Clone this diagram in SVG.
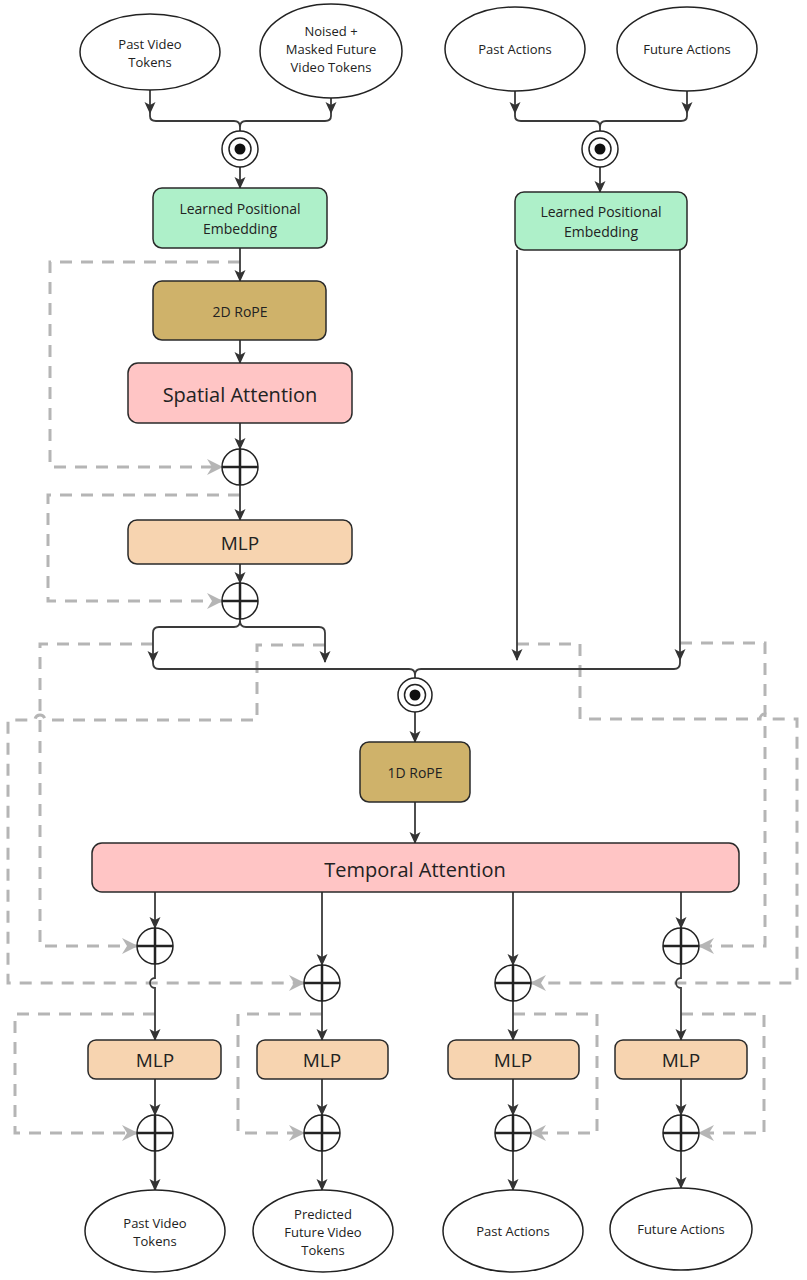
<svg xmlns="http://www.w3.org/2000/svg" width="807" height="1280" viewBox="0 0 807 1280">
<defs>
<style>
text{font-family:"Open Sans","Liberation Sans",sans-serif;fill:#222;text-anchor:middle;dominant-baseline:central}
.ell{fill:#fff;stroke:#222;stroke-width:1.5}
.box{stroke:#2a2a2a;stroke-width:1.5}
.ln{fill:none;stroke:#3a3a3a;stroke-width:1.8}
.ds{fill:none;stroke:#b5b5b5;stroke-width:3;stroke-dasharray:12 9}
.pc{fill:#fff;stroke:#222;stroke-width:1.5}
.px{stroke:#222;stroke-width:2.5}
.s13{font-size:13px}
.s14{font-size:14px}
.s19{font-size:19px}
</style>
<marker id="a" viewBox="0 0 12 12" refX="11" refY="6" markerWidth="12" markerHeight="12" markerUnits="userSpaceOnUse" orient="auto">
<path d="M0,0.5 L12,6 L0,11.5 L3,6 z" fill="#333"/>
</marker>
<marker id="g" viewBox="0 0 16 16" refX="15" refY="8" markerWidth="16" markerHeight="16" markerUnits="userSpaceOnUse" orient="auto">
<path d="M0,0 L16,8 L0,16 L5,8 z" fill="#b5b5b5"/>
</marker>
</defs>
<rect width="807" height="1280" fill="#fff"/>

<g id="connectors">
<path class="ds" d="M240,262 H50 V467 H222" marker-end="url(#g)"/>
<path class="ds" d="M240,495 H48 V601 H222" marker-end="url(#g)"/>
<path class="ds" d="M153,644 H40 V946 H137" marker-end="url(#g)"/>
<path class="ds" d="M325,645 H257 V720 H45 A5,5 0 0 0 35,720 H8 V983 H304" marker-end="url(#g)"/>
<path class="ds" d="M680,643 H765 V946 H699" marker-end="url(#g)"/>
<path class="ds" d="M517,644 H580 V719 H760 A5,5 0 0 1 770,719 H797 V983 H531" marker-end="url(#g)"/>
<path class="ds" d="M155,1014 H15 V1133 H137" marker-end="url(#g)"/>
<path class="ds" d="M322,1014 H238 V1133 H304" marker-end="url(#g)"/>
<path class="ds" d="M513,1014 H597 V1133 H531" marker-end="url(#g)"/>
<path class="ds" d="M681,1014 H764 V1133 H699" marker-end="url(#g)"/>

<path class="ln" d="M150,90 V113" marker-end="url(#a)"/>
<path class="ln" d="M331,98 V113" marker-end="url(#a)"/>
<path class="ln" d="M150,112 V116 Q150,121 156,121 H234 Q240,121 240,127 Q240,121 246,121 H325 Q331,121 331,116 V112 M240,127 V131"/>
<path class="ln" d="M240,167 V188" marker-end="url(#a)"/>
<path class="ln" d="M515,91 V113" marker-end="url(#a)"/>
<path class="ln" d="M687,91 V113" marker-end="url(#a)"/>
<path class="ln" d="M515,112 V116 Q515,121 521,121 H594 Q600,121 600,127 Q600,121 606,121 H681 Q687,121 687,116 V112 M600,127 V131"/>
<path class="ln" d="M600,167 V192" marker-end="url(#a)"/>
<path class="ln" d="M240,248 V281" marker-end="url(#a)"/>
<path class="ln" d="M240,340 V363" marker-end="url(#a)"/>
<path class="ln" d="M240,423 V449" marker-end="url(#a)"/>
<path class="ln" d="M240,485 V520" marker-end="url(#a)"/>
<path class="ln" d="M240,564 V583" marker-end="url(#a)"/>
<path class="ln" d="M240,619 V621 Q240,627 234,627 H159 Q153,627 153,633 V662" marker-end="url(#a)"/>
<path class="ln" d="M240,621 Q240,627 246,627 H319 Q325,627 325,633 V662" marker-end="url(#a)"/>
<path class="ln" d="M517,250 V660" marker-end="url(#a)"/>
<path class="ln" d="M680,250 V660" marker-end="url(#a)"/>
<path class="ln" d="M153,661 V663 Q153,669 159,669 H409 Q415,669 415,675 Q415,669 421,669 H674 Q680,669 680,663 V659 M415,675 V678"/>
<path class="ln" d="M415,712 V742" marker-end="url(#a)"/>
<path class="ln" d="M415,802 V843" marker-end="url(#a)"/>
<path class="ln" d="M155,892 V928" marker-end="url(#a)"/>
<path class="ln" d="M322,892 V965" marker-end="url(#a)"/>
<path class="ln" d="M513,892 V965" marker-end="url(#a)"/>
<path class="ln" d="M681,892 V928" marker-end="url(#a)"/>
<path class="ln" d="M155,964 V978 A5,5 0 0 0 155,988 V1040" marker-end="url(#a)"/>
<path class="ln" d="M322,1001 V1040" marker-end="url(#a)"/>
<path class="ln" d="M513,1001 V1040" marker-end="url(#a)"/>
<path class="ln" d="M681,964 V978 A5,5 0 0 0 681,988 V1040" marker-end="url(#a)"/>
<path class="ln" d="M155,1079 V1115" marker-end="url(#a)"/>
<path class="ln" d="M322,1079 V1115" marker-end="url(#a)"/>
<path class="ln" d="M513,1079 V1115" marker-end="url(#a)"/>
<path class="ln" d="M681,1079 V1115" marker-end="url(#a)"/>
<path class="ln" d="M155,1151 V1190" marker-end="url(#a)" style="stroke-width:2.3"/>
<path class="ln" d="M322,1151 V1190" marker-end="url(#a)"/>
<path class="ln" d="M513,1151 V1190" marker-end="url(#a)"/>
<path class="ln" d="M681,1151 V1188" marker-end="url(#a)"/>
</g>

<g id="in-past-video"><ellipse class="ell" cx="150" cy="52" rx="70" ry="38"/><text class="s13" x="150" y="44">Past Video</text><text class="s13" x="150" y="62">Tokens</text></g>
<g id="in-noised"><ellipse class="ell" cx="331" cy="51" rx="71" ry="47"/><text class="s13" x="331" y="31">Noised +</text><text class="s13" x="331" y="49">Masked Future</text><text class="s13" x="331" y="67">Video Tokens</text></g>
<g id="in-past-actions"><ellipse class="ell" cx="515" cy="49" rx="70" ry="42"/><text class="s13" x="515" y="49">Past Actions</text></g>
<g id="in-future-actions"><ellipse class="ell" cx="687" cy="49" rx="70" ry="42"/><text class="s13" x="687" y="49">Future Actions</text></g>

<g id="concat1"><circle class="pc" cx="240" cy="149" r="18"/><circle class="pc" cx="240" cy="149" r="11"/><circle cx="240" cy="149" r="5.5" fill="#111"/></g>
<g id="concat2"><circle class="pc" cx="600" cy="149" r="18"/><circle class="pc" cx="600" cy="149" r="11"/><circle cx="600" cy="149" r="5.5" fill="#111"/></g>

<g id="lpe1"><rect class="box" x="153" y="188" width="174" height="60" rx="9" fill="#aef0c9"/><text class="s14" x="240" y="208">Learned Positional</text><text class="s14" x="240" y="228">Embedding</text></g>
<g id="lpe2"><rect class="box" x="515" y="192" width="172" height="58" rx="9" fill="#aef0c9"/><text class="s14" x="601" y="211">Learned Positional</text><text class="s14" x="601" y="231">Embedding</text></g>

<g id="rope2d"><rect class="box" x="153" y="281" width="173" height="59" rx="9" fill="#cfb26a"/><text class="s14" x="240" y="311">2D RoPE</text></g>
<g id="spatial"><rect class="box" x="128" y="363" width="224" height="60" rx="10" fill="#ffc5c5"/><text x="240" y="394" style="font-size:20px">Spatial Attention</text></g>
<g id="add1"><circle class="pc" cx="240" cy="467" r="18"/><path class="px" d="M222,467 H258 M240,449 V485"/></g>
<g id="mlp0"><rect class="box" x="128" y="520" width="224" height="44" rx="9" fill="#f7d4b0"/><text class="s19" x="240" y="543">MLP</text></g>
<g id="add2"><circle class="pc" cx="240" cy="601" r="18"/><path class="px" d="M222,601 H258 M240,583 V619"/></g>

<g id="concat3"><circle class="pc" cx="415" cy="695" r="17"/><circle class="pc" cx="415" cy="695" r="10.5"/><circle cx="415" cy="695" r="5.5" fill="#111"/></g>
<g id="rope1d"><rect class="box" x="360" y="742" width="110" height="60" rx="9" fill="#cfb26a"/><text class="s14" x="415" y="772">1D RoPE</text></g>
<g id="temporal"><rect class="box" x="92" y="843" width="647" height="49" rx="10" fill="#ffc5c5"/><text x="415" y="869" style="font-size:20px">Temporal Attention</text></g>

<g id="add-a1"><circle class="pc" cx="155" cy="946" r="18"/><path class="px" d="M137,946 H173 M155,928 V964"/></g>
<g id="add-a2"><circle class="pc" cx="322" cy="983" r="18"/><path class="px" d="M304,983 H340 M322,965 V1001"/></g>
<g id="add-a3"><circle class="pc" cx="513" cy="983" r="18"/><path class="px" d="M495,983 H531 M513,965 V1001"/></g>
<g id="add-a4"><circle class="pc" cx="681" cy="946" r="18"/><path class="px" d="M663,946 H699 M681,928 V964"/></g>

<g id="mlp1"><rect class="box" x="88" y="1040" width="133" height="39" rx="8" fill="#f7d4b0"/><text class="s19" x="155" y="1060">MLP</text></g>
<g id="mlp2"><rect class="box" x="257" y="1040" width="131" height="39" rx="8" fill="#f7d4b0"/><text class="s19" x="322" y="1060">MLP</text></g>
<g id="mlp3"><rect class="box" x="448" y="1040" width="131" height="39" rx="8" fill="#f7d4b0"/><text class="s19" x="513" y="1060">MLP</text></g>
<g id="mlp4"><rect class="box" x="615" y="1040" width="132" height="39" rx="8" fill="#f7d4b0"/><text class="s19" x="681" y="1060">MLP</text></g>

<g id="add-b1"><circle class="pc" cx="155" cy="1133" r="18"/><path class="px" d="M137,1133 H173 M155,1115 V1151"/></g>
<g id="add-b2"><circle class="pc" cx="322" cy="1133" r="18"/><path class="px" d="M304,1133 H340 M322,1115 V1151"/></g>
<g id="add-b3"><circle class="pc" cx="513" cy="1133" r="18"/><path class="px" d="M495,1133 H531 M513,1115 V1151"/></g>
<g id="add-b4"><circle class="pc" cx="681" cy="1133" r="18"/><path class="px" d="M663,1133 H699 M681,1115 V1151"/></g>

<g id="out-past-video"><ellipse class="ell" cx="155" cy="1231" rx="70" ry="41"/><text class="s13" x="155" y="1223">Past Video</text><text class="s13" x="155" y="1241">Tokens</text></g>
<g id="out-future-video"><ellipse class="ell" cx="323" cy="1231" rx="70" ry="41"/><text class="s13" x="323" y="1214">Predicted</text><text class="s13" x="323" y="1232">Future Video</text><text class="s13" x="323" y="1250">Tokens</text></g>
<g id="out-past-actions"><ellipse class="ell" cx="513" cy="1231" rx="70" ry="41"/><text class="s13" x="513" y="1231">Past Actions</text></g>
<g id="out-future-actions"><ellipse class="ell" cx="681" cy="1229" rx="71" ry="41"/><text class="s13" x="681" y="1229">Future Actions</text></g>
</svg>
